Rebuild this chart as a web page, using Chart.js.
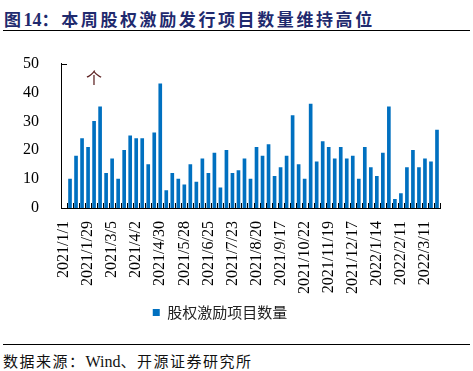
<!DOCTYPE html>
<html lang="zh">
<head>
    <meta charset="UTF-8" />
    <title>股权激励项目数量</title>
    <script src="https://cdn.jsdelivr.net/npm/chart.js"></script>
    <style>
        body {
            margin: 0;
            background: #fff;
        }
        .wrap {
            position: relative;
            width: 473px;
            height: 371px;
            overflow: hidden;
        }
        .title {
            position: absolute;
            left: 4px;
            top: 6px;
            color: #1f2a6e;
            font-family: "Noto Sans CJK SC", sans-serif;
            font-weight: bold;
            font-size: 17px;
            letter-spacing: 2.6px;
            white-space: nowrap;
        }
        .title .num {
            font-family: "Liberation Serif", serif;
            font-size: 18px;
            letter-spacing: 0;
        }
        .rule {
            position: absolute;
            left: 3px;
            width: 467px;
            height: 0;
            border-top: 1.5px solid #000;
        }
        .source {
            position: absolute;
            left: 3px;
            top: 350px;
            font-family: "Noto Sans CJK SC", sans-serif;
            font-size: 15px;
            letter-spacing: 1.5px;
            color: #111;
            white-space: nowrap;
        }
        .source .latin {
            font-family: "Liberation Serif", serif;
            font-size: 16px;
            letter-spacing: 0;
        }
        canvas {
            position: absolute;
            left: 0;
            top: 40px;
        }
    </style>
</head>
<body>
<div class="wrap">
    <div class="title">图<span class="num">14</span>：本周股权激励发行项目数量维持高位</div>
    <div class="rule" style="top: 30px;"></div>
    <canvas id="chart" width="473" height="290"></canvas>
    <div class="rule" style="top: 344px;"></div>
    <div class="source">数据来源：<span class="latin">Wind</span>、开源证券研究所</div>
</div>

<script>
    // weekly dates (Spring Festival and National Day weeks missing)
    const dates = [
        "2021/1/1", "2021/1/8", "2021/1/15", "2021/1/22", "2021/1/29", "2021/2/5", "2021/2/19", "2021/2/26",
        "2021/3/5", "2021/3/12", "2021/3/19", "2021/3/26", "2021/4/2", "2021/4/9", "2021/4/16", "2021/4/23",
        "2021/4/30", "2021/5/7", "2021/5/14", "2021/5/21", "2021/5/28", "2021/6/4", "2021/6/11", "2021/6/18",
        "2021/6/25", "2021/7/2", "2021/7/9", "2021/7/16", "2021/7/23", "2021/7/30", "2021/8/6", "2021/8/13",
        "2021/8/20", "2021/8/27", "2021/9/3", "2021/9/10", "2021/9/17", "2021/9/24", "2021/10/8", "2021/10/15",
        "2021/10/22", "2021/10/29", "2021/11/5", "2021/11/12", "2021/11/19", "2021/11/26", "2021/12/3", "2021/12/10",
        "2021/12/17", "2021/12/24", "2021/12/31", "2022/1/7", "2022/1/14", "2022/1/21", "2022/1/28", "2022/2/4",
        "2022/2/11", "2022/2/18", "2022/2/25", "2022/3/4", "2022/3/11", "2022/3/18", "2022/3/25"
    ];

    const projects = [
        null, 10, 18, 24, 21, 30, 35, 12, 17, 10, 20, 25, 24, 24, 15, 26,
        43, 6, 12, 10, 8, 15, 9, 17, 12, 19, 7, 20, 12, 13, 17, 10,
        21, 18, 22, 11, 14, 18, 32, 15, 10, 36, 16, 23, 21, 17, 21, 17,
        18, 10, 21, 14, 11, 19, 35, 3, 5, 14, 20, 14, 17, 16, 27
    ];

    const labelEvery = 4;
    const unitLabel = "个";

    // small inward tick marks on the x axis and the 50 mark on y
    const tickMarks = {
        id: "tickMarks",
        afterDatasetsDraw(chart) {
            const { ctx, scales: { x, y } } = chart;
            const w = x.getPixelForValue(1) - x.getPixelForValue(0);
            ctx.save();
            ctx.strokeStyle = "#000";
            ctx.lineWidth = 1;
            ctx.beginPath();
            for (let i = 0; i <= dates.length; i++) {
                const px = Math.round(x.getPixelForValue(i) - w / 2) + 0.5;
                ctx.moveTo(px, y.bottom);
                ctx.lineTo(px, y.bottom - 5);
            }
            const ty = Math.round(y.getPixelForValue(50)) + 0.5;
            ctx.moveTo(x.left, ty);
            ctx.lineTo(x.left + 6, ty);
            ctx.stroke();

            ctx.fillStyle = "#5a1e1e";
            ctx.font = "16px 'Noto Sans CJK SC'";
            ctx.textBaseline = "middle";
            ctx.fillText(unitLabel, x.left + 25, y.getPixelForValue(45));
            ctx.restore();
        }
    };

    const ctx = document.getElementById("chart").getContext("2d");
    new Chart(ctx, {
        type: "bar",
        data: {
            labels: dates,
            datasets: [{
                label: "股权激励项目数量",
                data: projects,
                backgroundColor: "#0070c0",
                barThickness: 3
            }]
        },
        options: {
            responsive: false,
            animation: false,
            layout: {
                padding: { top: 21, right: 33, left: 0, bottom: 0 }
            },
            plugins: {
                legend: {
                    position: "bottom",
                    labels: {
                        boxWidth: 7,
                        boxHeight: 7,
                        color: "#222",
                        padding: 10,
                        font: { family: "'Noto Sans CJK SC'", size: 15 }
                    }
                },
                tooltip: { enabled: false }
            },
            scales: {
                x: {
                    grid: { display: false },
                    border: { display: true, color: "#000", width: 1 },
                    afterFit(scale) { scale.height = 87; },
                    ticks: {
                        autoSkip: false,
                        maxRotation: 90,
                        minRotation: 90,
                        padding: 5,
                        color: "#000",
                        font: { family: "'Liberation Serif'", size: 16 },
                        callback: (v, i) => i % labelEvery === 0 ? dates[i] : ""
                    }
                },
                y: {
                    min: 0,
                    max: 50,
                    grid: { display: false },
                    border: { display: true, color: "#000", width: 1 },
                    afterFit(scale) { scale.width = 61; },
                    ticks: {
                        stepSize: 10,
                        padding: 14,
                        color: "#000",
                        font: { family: "'Liberation Serif'", size: 16 }
                    }
                }
            }
        },
        plugins: [tickMarks]
    });
</script>
</body>
</html>
